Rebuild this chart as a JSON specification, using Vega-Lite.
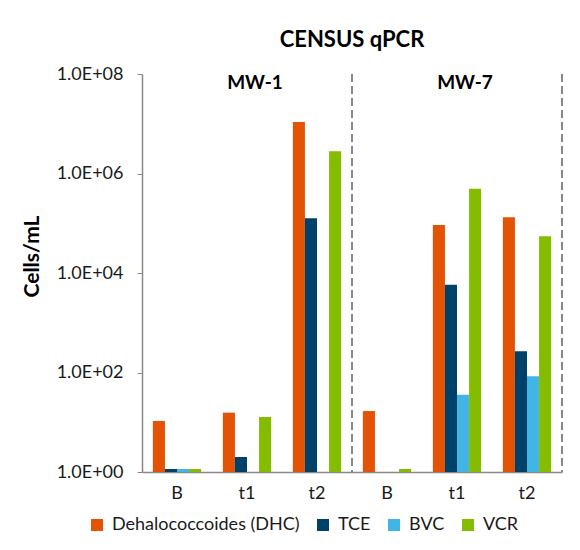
{
  "$schema": "https://vega.github.io/schema/vega-lite/v6.json",
  "width": 420,
  "height": 398,
  "autosize": {"type": "none"},
  "padding": {"left": 142, "top": 74, "right": 18, "bottom": 78},
  "background": "white",
  "title": {
    "text": "CENSUS qPCR",
    "fontSize": 22,
    "fontWeight": "bold",
    "font": "Lato",
    "color": "#000000",
    "anchor": "middle",
    "frame": "group",
    "offset": 13
  },
  "config": {
    "view": {"stroke": null},
    "font": "Lato",
    "axis": {"grid": false, "domainColor": "#898989", "tickColor": "#898989", "labelFont": "Lato", "labelColor": "#1a1a1a", "labelFontSize": 18, "titleFont": "Lato"},
    "legend": {"labelFont": "Lato"}
  },
  "datasets": {
    "bars": [
      {"cat": "MW-1 B", "gene": "Dehalococcoides (DHC)", "value": 10.6},
      {"cat": "MW-1 B", "gene": "TCE", "value": 1.15},
      {"cat": "MW-1 B", "gene": "BVC", "value": 1.15},
      {"cat": "MW-1 B", "gene": "VCR", "value": 1.15},
      {"cat": "MW-1 t1", "gene": "Dehalococcoides (DHC)", "value": 15.6},
      {"cat": "MW-1 t1", "gene": "TCE", "value": 2.0},
      {"cat": "MW-1 t1", "gene": "VCR", "value": 12.7},
      {"cat": "MW-1 t2", "gene": "Dehalococcoides (DHC)", "value": 10800000},
      {"cat": "MW-1 t2", "gene": "TCE", "value": 126000},
      {"cat": "MW-1 t2", "gene": "VCR", "value": 2800000},
      {"cat": "MW-7 B", "gene": "Dehalococcoides (DHC)", "value": 16.8},
      {"cat": "MW-7 B", "gene": "VCR", "value": 1.15},
      {"cat": "MW-7 t1", "gene": "Dehalococcoides (DHC)", "value": 92000},
      {"cat": "MW-7 t1", "gene": "TCE", "value": 5800},
      {"cat": "MW-7 t1", "gene": "BVC", "value": 35.8},
      {"cat": "MW-7 t1", "gene": "VCR", "value": 495000},
      {"cat": "MW-7 t2", "gene": "Dehalococcoides (DHC)", "value": 132000},
      {"cat": "MW-7 t2", "gene": "TCE", "value": 267},
      {"cat": "MW-7 t2", "gene": "BVC", "value": 84},
      {"cat": "MW-7 t2", "gene": "VCR", "value": 55000}
    ],
    "dividers": [{"cat": "MW-1 t2"}, {"cat": "MW-7 t2"}],
    "sites": [{"cat": "MW-1 t1", "label": "MW-1"}, {"cat": "MW-7 t1", "label": "MW-7"}]
  },
  "layer": [
    {
      "data": {"name": "bars"},
      "mark": {"type": "bar"},
      "encoding": {
        "x": {
          "field": "cat",
          "type": "nominal",
          "scale": {"domain": ["MW-1 B", "MW-1 t1", "MW-1 t2", "MW-7 B", "MW-7 t1", "MW-7 t2"], "paddingInner": 0, "paddingOuter": 0},
          "axis": {"title": null, "ticks": false, "labelAngle": 0, "labelPadding": 12, "labelExpr": "substring(datum.value, 5)", "domainWidth": 1.5}
        },
        "xOffset": {
          "field": "gene",
          "type": "nominal",
          "scale": {"domain": ["Dehalococcoides (DHC)", "TCE", "BVC", "VCR"], "paddingInner": 0, "paddingOuter": 0.9}
        },
        "y": {
          "field": "value",
          "type": "quantitative",
          "stack": null,
          "scale": {"type": "log", "domain": [1, 100000000], "nice": false},
          "axis": {
            "title": "Cells/mL",
            "titleFontSize": 21,
            "titleFontWeight": "bold",
            "titleColor": "#000000",
            "titleX": -110,
            "titleY": 182,
            "titleBaseline": "middle",
            "titleAlign": "center",
            "values": [1, 100, 10000, 1000000, 100000000],
            "tickSize": 5,
            "labelPadding": 14,
            "domainWidth": 1.5,
            "labelExpr": "'1.0E+' + (floor(log(datum.value)/LN10 + 0.5) < 10 ? '0' : '') + floor(log(datum.value)/LN10 + 0.5)"
          }
        },
        "color": {
          "field": "gene",
          "type": "nominal",
          "scale": {"domain": ["Dehalococcoides (DHC)", "TCE", "BVC", "VCR"], "range": ["#E35205", "#00416A", "#41B6E6", "#84BD00"]},
          "legend": {
            "title": null,
            "orient": "none",
            "direction": "horizontal",
            "legendX": -54,
            "legendY": 442,
            "symbolType": "square",
            "symbolSize": 144,
            "symbolStrokeWidth": 0,
            "labelFontSize": 18,
            "labelLimit": 300,
            "labelColor": "#1a1a1a",
            "labelOffset": 6,
            "columnPadding": 14
          }
        }
      }
    },
    {
      "data": {"name": "dividers"},
      "mark": {"type": "rule", "color": "#888888", "strokeWidth": 2, "strokeDash": [8, 4]},
      "encoding": {
        "x": {"field": "cat", "type": "nominal", "bandPosition": 1}
      }
    },
    {
      "data": {"name": "sites"},
      "mark": {"type": "text", "fontSize": 19, "fontWeight": "bold", "font": "Lato", "color": "#000000", "baseline": "middle", "dy": 9, "dx": 8},
      "encoding": {
        "x": {"field": "cat", "type": "nominal"},
        "y": {"datum": 100000000},
        "text": {"field": "label"}
      }
    }
  ]
}
